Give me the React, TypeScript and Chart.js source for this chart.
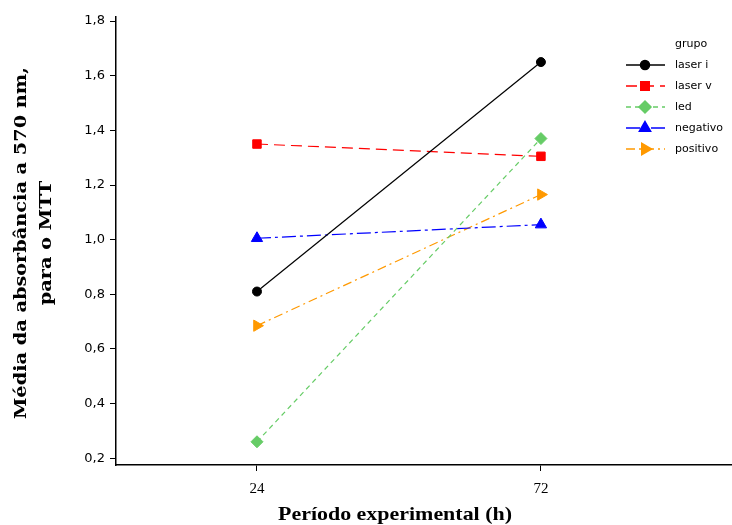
import { useEffect, useRef } from "react";
import { Chart, registerables } from "chart.js";
import { drawPoint } from "chart.js/helpers";

Chart.register(...registerables);

const periods = [24, 72];
const legendTitle = "grupo";
const seriesNames = ["laser i", "laser v", "led", "negativo", "positivo"];
const laserI = [0.81, 1.65];
const laserV = [1.35, 1.305];
const led = [0.26, 1.37];
const negativo = [1.005, 1.055];
const positivo = [0.685, 1.165];
const yTickValues = [0.2, 0.4, 0.6, 0.8, 1.0, 1.2, 1.4, 1.6, 1.8];
const xTickValues = [24, 72];
const yTitleLines = ["Média da absorbância a 570 nm,", "para o MTT"];
const xTitle = "Período experimental (h)";

const seriesValues = [laserI, laserV, led, negativo, positivo];
const styles = [
  { color: "#000000", dash: [], pointStyle: "circle", radius: 4.5, rotation: 0 },
  { color: "#FF0000", dash: [11, 6], pointStyle: "rect", radius: 6, rotation: 0 },
  { color: "#66CC66", dash: [5, 4], pointStyle: "rectRot", radius: 6, rotation: 0 },
  { color: "#0000FF", dash: [14, 4, 3, 4], pointStyle: "triangle", radius: 6.5, rotation: 0 },
  { color: "#FF9900", dash: [9, 4, 2, 4], pointStyle: "triangle", radius: 6.5, rotation: 90 },
];

const overlayPlugin = {
  id: "overlay",
  afterDraw(chart: any) {
    const ctx = chart.ctx as CanvasRenderingContext2D;
    ctx.save();
    ctx.fillStyle = "#000";
    ctx.font = "bold 16px 'DejaVu Serif'";
    ctx.textAlign = "center";
    ctx.textBaseline = "middle";
    const yCenters = [22, 47];
    let scaleY = 1;
    yTitleLines.forEach((line, i) => {
      ctx.save();
      ctx.translate(yCenters[i], 243);
      ctx.rotate(-Math.PI / 2);
      if (i === 0) {
        const w = ctx.measureText(line).width;
        scaleY = 352 / w;
      }
      ctx.scale(scaleY, 1);
      ctx.fillText(line, 0, 0);
      ctx.restore();
    });
    ctx.save();
    ctx.font = "bold 19px 'Liberation Serif'";
    const xw = ctx.measureText(xTitle).width;
    ctx.translate(395, 515);
    ctx.scale(234 / xw, 1);
    ctx.fillText(xTitle, 0, 0);
    ctx.restore();

    ctx.font = "11px 'DejaVu Sans'";
    ctx.textAlign = "left";
    ctx.fillText(legendTitle, 675, 44);
    chart.data.datasets.forEach((ds: any, i: number) => {
      const y = 65 + i * 21;
      ctx.save();
      ctx.strokeStyle = ds.borderColor;
      ctx.lineWidth = 1.5;
      ctx.setLineDash(ds.borderDash || []);
      ctx.beginPath();
      ctx.moveTo(626, y);
      ctx.lineTo(665, y);
      ctx.stroke();
      ctx.setLineDash([]);
      ctx.fillStyle = ds.pointBackgroundColor;
      ctx.strokeStyle = ds.pointBorderColor;
      drawPoint(ctx, {
        pointStyle: ds.pointStyle,
        rotation: ds.pointRotation,
        radius: ds.pointRadius,
        borderWidth: 1,
      } as any, 645, y);
      ctx.restore();
      ctx.fillStyle = "#000";
      ctx.fillText(ds.label, 675, y);
    });
    ctx.restore();
  },
};

export default function App() {
  const ref = useRef<HTMLCanvasElement>(null);
  useEffect(() => {
    if (!ref.current) return;
    const datasets = seriesNames.map((name, i) => ({
      label: name,
      data: periods.map((x, j) => ({ x, y: seriesValues[i][j] })),
      borderColor: styles[i].color,
      backgroundColor: styles[i].color,
      pointBackgroundColor: styles[i].color,
      pointBorderColor: styles[i].color,
      borderWidth: 1.2,
      borderDash: styles[i].dash,
      pointStyle: styles[i].pointStyle,
      pointRadius: styles[i].radius,
      pointRotation: styles[i].rotation,
      pointBorderWidth: 1,
      showLine: true,
      tension: 0,
    }));
    const chart = new Chart(ref.current, {
      type: "scatter",
      data: { datasets } as any,
      options: {
        animation: false,
        responsive: false,
        layout: { autoPadding: false, padding: { top: 17, right: 0, left: 0, bottom: 0 } },
        plugins: { legend: { display: false }, tooltip: { enabled: false } },
        scales: {
          x: {
            type: "linear",
            min: 0.17,
            max: 104.3,
            afterBuildTicks: (s: any) => {
              s.ticks = xTickValues.map((v) => ({ value: v }));
            },
            afterFit: (s: any) => {
              s.height = 60;
              s.paddingRight = 0;
              s.paddingLeft = 0;
            },
            ticks: {
              color: "#000",
              font: { family: "'Liberation Serif'", size: 15 },
              padding: 9,
              callback: (v: any) => String(v),
            },
            grid: { drawOnChartArea: false, drawTicks: true, tickLength: 6, color: "#000", lineWidth: 1 },
            border: { display: true, color: "#000", width: 1.5 },
          },
          y: {
            type: "linear",
            min: 0.175,
            max: 1.815,
            afterBuildTicks: (s: any) => {
              s.ticks = yTickValues.map((v) => ({ value: v }));
            },
            afterFit: (s: any) => {
              s.width = 116;
              s.paddingTop = 0;
              s.paddingBottom = 0;
            },
            ticks: {
              color: "#000",
              font: { family: "'DejaVu Sans'", size: 13 },
              padding: 5,
              callback: (v: any) => Number(v).toFixed(1).replace(".", ","),
            },
            grid: { drawOnChartArea: false, drawTicks: true, tickLength: 6, color: "#000", lineWidth: 1 },
            border: { display: true, color: "#000", width: 1.5 },
          },
        },
      },
      plugins: [overlayPlugin],
    });
    const fonts = (document as any).fonts;
    if (fonts && fonts.ready) {
      fonts.ready.then(() => {
        try { chart.update(); } catch (e) { /* destroyed */ }
      });
    }
    return () => chart.destroy();
  }, []);
  return (
    <div style={{ position: "fixed", left: 0, top: 0, width: 732, height: 525, background: "#fff" }}>
      <canvas ref={ref} width={732} height={525} />
    </div>
  );
}
